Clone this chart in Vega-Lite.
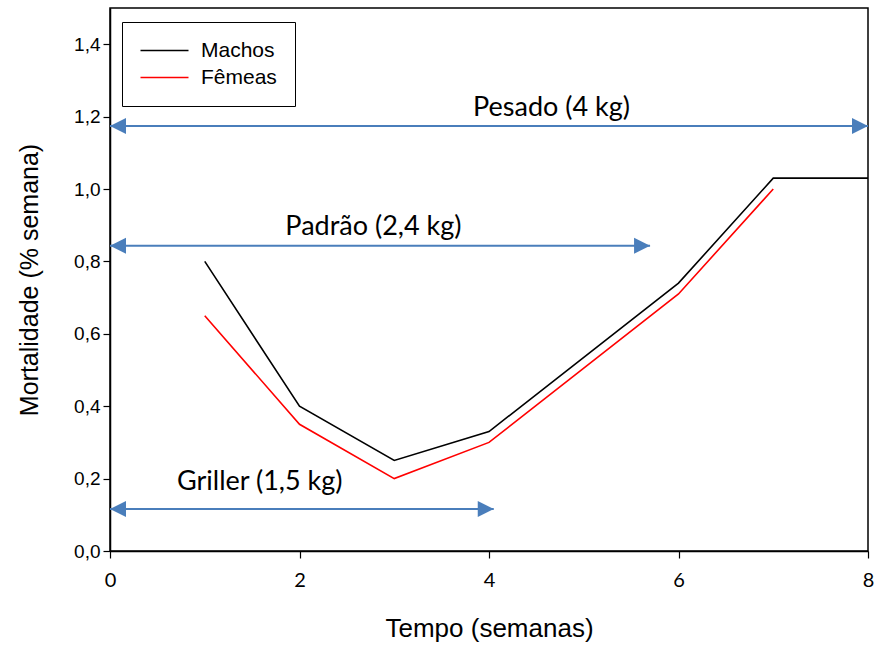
{
  "$schema": "https://vega.github.io/schema/vega-lite/v6.json",
  "width": 758,
  "height": 543,
  "autosize": {"type": "none"},
  "padding": {"left": 110, "top": 8, "right": 16, "bottom": 98},
  "background": "white",
  "config": {
    "font": "Liberation Sans",
    "view": {"stroke": "black", "strokeWidth": 1.5}
  },
  "datasets": {
    "series": [
      {"t": 1, "m": 0.80, "sexo": "Machos"},
      {"t": 2, "m": 0.40, "sexo": "Machos"},
      {"t": 3, "m": 0.25, "sexo": "Machos"},
      {"t": 4, "m": 0.33, "sexo": "Machos"},
      {"t": 6, "m": 0.74, "sexo": "Machos"},
      {"t": 7, "m": 1.03, "sexo": "Machos"},
      {"t": 8, "m": 1.03, "sexo": "Machos"},
      {"t": 1, "m": 0.65, "sexo": "Fêmeas"},
      {"t": 2, "m": 0.35, "sexo": "Fêmeas"},
      {"t": 3, "m": 0.20, "sexo": "Fêmeas"},
      {"t": 4, "m": 0.30, "sexo": "Fêmeas"},
      {"t": 6, "m": 0.71, "sexo": "Fêmeas"},
      {"t": 7, "m": 1.00, "sexo": "Fêmeas"}
    ],
    "arrows": [
      {"nome": "Pesado (4 kg)", "x0": 0, "x1": 8, "y": 1.174, "lx": 4.66, "ly": 1.224},
      {"nome": "Padrão (2,4 kg)", "x0": 0, "x1": 5.7, "y": 0.843, "lx": 2.78, "ly": 0.896},
      {"nome": "Griller (1,5 kg)", "x0": 0, "x1": 4.05, "y": 0.116, "lx": 1.58, "ly": 0.19}
    ]
  },
  "layer": [
    {
      "data": {"name": "arrows"},
      "mark": {"type": "rule", "color": "#4a7ebb", "strokeWidth": 2},
      "encoding": {
        "x": {"field": "x0", "type": "quantitative"},
        "x2": {"field": "x1"},
        "y": {"field": "y", "type": "quantitative"}
      }
    },
    {
      "data": {"name": "arrows"},
      "mark": {"type": "point", "shape": "M0,0L2,-1L2,1Z", "filled": true, "color": "#4a7ebb", "opacity": 1, "size": 256},
      "encoding": {
        "x": {"field": "x0", "type": "quantitative"},
        "y": {"field": "y", "type": "quantitative"}
      }
    },
    {
      "data": {"name": "arrows"},
      "mark": {"type": "point", "shape": "M0,0L-2,-1L-2,1Z", "filled": true, "color": "#4a7ebb", "opacity": 1, "size": 256},
      "encoding": {
        "x": {"field": "x1", "type": "quantitative"},
        "y": {"field": "y", "type": "quantitative"}
      }
    },
    {
      "data": {"name": "arrows"},
      "mark": {"type": "text", "fontSize": 27, "font": "Lato", "color": "black", "align": "center", "baseline": "middle"},
      "encoding": {
        "x": {"field": "lx", "type": "quantitative"},
        "y": {"field": "ly", "type": "quantitative"},
        "text": {"field": "nome"}
      }
    },
    {
      "data": {"name": "series"},
      "mark": {"type": "line", "strokeWidth": 1.6},
      "encoding": {
        "x": {"field": "t", "type": "quantitative", "scale": {"domain": [0, 8], "nice": false},
          "axis": {"values": [0, 2, 4, 6, 8], "format": "d", "labelFlush": false, "title": "Tempo (semanas)", "titleFontSize": 26, "titleFontWeight": "normal", "titleColor": "black", "titlePadding": 25, "labelPadding": 12, "labelFontSize": 20, "labelColor": "black", "labelFont": "Lato", "domainColor": "black", "domainWidth": 1.5, "tickColor": "black", "tickWidth": 1.2, "tickSize": 7, "grid": false}},
        "y": {"field": "m", "type": "quantitative", "scale": {"domain": [0, 1.5], "nice": false},
          "axis": {"values": [0, 0.2, 0.4, 0.6, 0.8, 1.0, 1.2, 1.4], "title": "Mortalidade (% semana)", "labelExpr": "replace(format(datum.value, '.1f'), '.', ',')", "titleFontSize": 25, "titleFontWeight": "normal", "titleColor": "black", "titlePadding": 31, "labelPadding": 3, "labelFontSize": 19, "labelColor": "black", "domainColor": "black", "domainWidth": 1.5, "tickColor": "black", "tickWidth": 1.2, "tickSize": 7, "grid": false}},
        "color": {"field": "sexo", "type": "nominal", "scale": {"domain": ["Machos", "Fêmeas"], "range": ["black", "red"]},
          "legend": {"title": null, "orient": "none", "legendX": 12, "legendY": 14, "strokeColor": "black", "fillColor": "white", "padding": 18, "symbolType": "M-3,0L3,0", "symbolSize": 256, "symbolOffset": 14, "symbolStrokeWidth": 1.5, "labelFontSize": 21, "labelColor": "black", "rowPadding": 5, "labelOffset": 26}},
        "order": {"field": "t", "type": "quantitative"}
      }
    }
  ]
}
